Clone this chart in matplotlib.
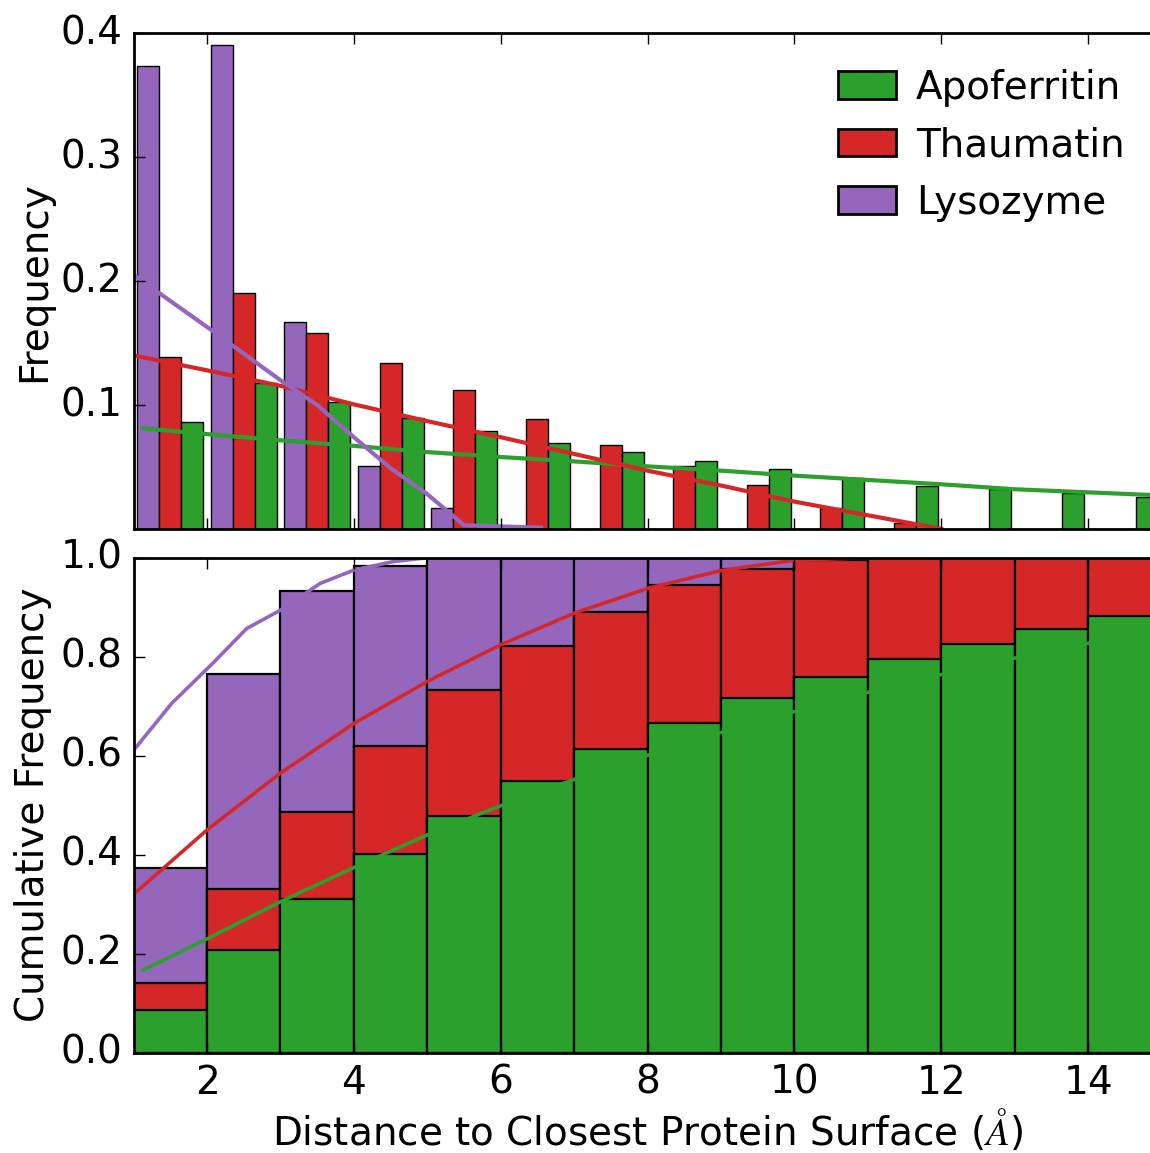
import numpy as np
import matplotlib
matplotlib.use('Agg')
import matplotlib.pyplot as plt
import matplotlib.patches as mpatches

plt.style.use('classic')
plt.rcParams['font.family'] = ['DejaVu Sans']
plt.rcParams['font.size'] = 14
plt.rcParams['figure.facecolor'] = 'white'
plt.rcParams['savefig.facecolor'] = 'white'
plt.rcParams['mathtext.fontset'] = 'cm'

# bins (distance, in Angstrom)
bin_edges = np.arange(1, 16)

# frequency per bin
apoferritin = [0.086, 0.118, 0.1027, 0.0898, 0.079, 0.0696, 0.0624, 0.0551,
               0.0484, 0.0414, 0.0347, 0.032, 0.0287, 0.0255]
thaumatin = [0.1388, 0.1905, 0.158, 0.134, 0.112, 0.0885, 0.0677, 0.0508,
             0.0354, 0.0171, 0.0045, 0.0, 0.0, 0.0]
lysozyme = [0.374, 0.391, 0.167, 0.0508, 0.0171, 0.0, 0.0, 0.0,
            0.0, 0.0, 0.0, 0.0, 0.0, 0.0]

# cumulative frequency per bin
apoferritin_cum = [0.086, 0.2075, 0.31, 0.401, 0.479, 0.5495, 0.613, 0.667,
                   0.716, 0.758, 0.795, 0.826, 0.856, 0.882]
thaumatin_cum = [0.140, 0.330, 0.487, 0.620, 0.733, 0.822, 0.891, 0.945,
                 0.977, 0.995, 1.0, 1.0, 1.0, 1.0]
lysozyme_cum = [0.3725, 0.766, 0.933, 0.984, 1.0, 1.0, 1.0, 1.0,
                1.0, 1.0, 1.0, 1.0, 1.0, 1.0]

# model curves, frequency
apo_fit_x = [1.13, 2, 3, 4, 5, 6, 7, 8, 9, 10, 11, 12, 13, 14, 15]
apo_fit_y = [0.0812, 0.0765, 0.0715, 0.067, 0.062, 0.058, 0.0545, 0.0505,
             0.047, 0.043, 0.0395, 0.036, 0.032, 0.0295, 0.027]
thau_fit_x = [1, 2, 3, 4, 5, 6, 7, 8, 9, 10, 11, 12]
thau_fit_y = [0.140, 0.128, 0.1155, 0.1005, 0.087, 0.074, 0.0605, 0.047,
              0.035, 0.022, 0.011, 0.0]
lys_fit_x = [1, 2, 3, 3.5, 4, 4.5, 5, 5.5, 6, 6.55]
lys_fit_y = [0.205, 0.163, 0.12, 0.1, 0.074, 0.049, 0.028, 0.003, 0.002, 0.001]

# model curves, cumulative
apo_cfit_x = [1.13, 2, 3, 4, 5, 6, 7, 8, 9, 10, 11, 12, 13, 14, 15]
apo_cfit_y = [0.167, 0.23, 0.305, 0.374, 0.44, 0.499, 0.552, 0.601, 0.647,
              0.689, 0.728, 0.764, 0.797, 0.827, 0.853]
thau_cfit_x = [1, 2, 3, 4, 5, 6, 7, 8, 9, 10, 11, 12]
thau_cfit_y = [0.32, 0.45, 0.565, 0.665, 0.75, 0.824, 0.888, 0.938, 0.974,
               0.995, 1.0, 1.0]
lys_cfit_x = [1.0, 1.52, 2.08, 2.54, 3.0, 3.54, 4.0, 4.53, 5.0, 6.55]
lys_cfit_y = [0.611, 0.706, 0.787, 0.857, 0.894, 0.948, 0.975, 0.992, 1.0, 1.0]

green = '#2ca02c'
red = '#d62728'
purple = '#9467bd'

fig = plt.figure(figsize=(5.75, 5.765), dpi=200)
ax1 = fig.add_axes([0.1162, 0.5413, 0.8938, 0.4297])
ax2 = fig.add_axes([0.1162, 0.0870, 0.8938, 0.4293])

left = bin_edges[:-1]

# top: grouped histogram
series = [(lysozyme, purple), (thaumatin, red), (apoferritin, green)]
for i, (vals, col) in enumerate(series):
    ax1.bar(left + 0.05 + i * 0.3, vals, width=0.3, align='edge',
            color=col, edgecolor='k', linewidth=0.5)

ax1.plot(apo_fit_x, apo_fit_y, color=green, lw=1.5)
ax1.plot(thau_fit_x, thau_fit_y, color=red, lw=1.5)
ax1.plot(lys_fit_x, lys_fit_y, color=purple, lw=1.5)

ax1.set_xlim(1, 15)
ax1.set_ylim(0, 0.4)
ax1.set_yticks([0.1, 0.2, 0.3, 0.4])
ax1.set_xticks(range(2, 15, 2))
ax1.set_xticklabels([])
ax1.set_ylabel('Frequency', labelpad=2.5)

handles = [mpatches.Patch(facecolor=green, edgecolor='k', label='Apoferritin'),
           mpatches.Patch(facecolor=red, edgecolor='k', label='Thaumatin'),
           mpatches.Patch(facecolor=purple, edgecolor='k', label='Lysozyme')]
ax1.legend(handles=handles, loc='upper left', bbox_to_anchor=(0.6853, 0.929),
           frameon=False, handlelength=1.5, handletextpad=0.5,
           labelspacing=0.5, borderpad=0, borderaxespad=0, fontsize=14)

# bottom: cumulative histogram, overlapping
for vals, col in [(lysozyme_cum, purple), (thaumatin_cum, red), (apoferritin_cum, green)]:
    ax2.bar(left, vals, width=1.0, align='edge', color=col,
            edgecolor='k', linewidth=0.8)

ax2.plot(apo_cfit_x, apo_cfit_y, color=green, lw=1.3)
ax2.plot(thau_cfit_x, thau_cfit_y, color=red, lw=1.3)
ax2.plot(lys_cfit_x, lys_cfit_y, color=purple, lw=1.3)

ax2.set_xlim(1, 15)
ax2.set_ylim(0, 1.0)
ax2.set_xticks(range(2, 15, 2))
ax2.set_yticks(np.arange(0, 1.01, 0.2))
ax2.set_ylabel('Cumulative Frequency', labelpad=3)
ax2.set_xlabel(r'Distance to Closest Protein Surface ($\AA$)', labelpad=2)

fig.savefig('out.png', dpi=200)
